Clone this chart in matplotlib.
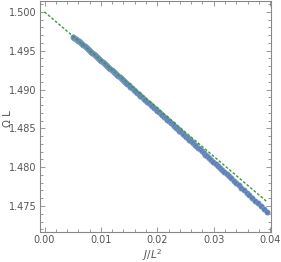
import matplotlib
matplotlib.use("Agg")
import matplotlib.pyplot as plt
from matplotlib.ticker import MultipleLocator, FormatStrFormatter

plt.rcParams['mathtext.fontset'] = 'dejavusans'

# data points (J/L^2, Omega L)
x_pts = [0.0051, 0.0053, 0.0055, 0.0057, 0.0059, 0.0061, 0.0063, 0.0065, 0.0067, 0.0069,
         0.0071, 0.0073, 0.0075, 0.0077, 0.0079, 0.0081, 0.0083, 0.0085, 0.0087, 0.0089,
         0.0091, 0.0093, 0.0095, 0.0097, 0.0099, 0.0101, 0.0103, 0.0105, 0.0107, 0.0109,
         0.0111, 0.0113, 0.0115, 0.0117, 0.0119, 0.0121, 0.0123, 0.0125, 0.0127, 0.0129,
         0.0131, 0.0133, 0.0135, 0.0137, 0.0139, 0.0141, 0.0143, 0.0145, 0.0147, 0.0149,
         0.0152, 0.0155, 0.0158, 0.0161, 0.0164, 0.0167, 0.0170, 0.0173, 0.0176, 0.0179,
         0.0182, 0.0185, 0.0188, 0.0191, 0.0194, 0.0197, 0.0200, 0.0203, 0.0206, 0.0209,
         0.0212, 0.0215, 0.0218, 0.0221, 0.0224, 0.0227, 0.0230, 0.0233, 0.0236, 0.0239,
         0.0242, 0.0245, 0.0248,
         0.02512, 0.02541, 0.02570, 0.02599, 0.02629, 0.02660, 0.02691, 0.02722, 0.02754,
         0.02787, 0.02820, 0.02854, 0.02889, 0.02924, 0.02960, 0.02996, 0.03033, 0.03071,
         0.03109, 0.03149, 0.03189, 0.03229, 0.03271, 0.03313, 0.03356, 0.03400, 0.03445,
         0.03491, 0.03538, 0.03585, 0.03634, 0.03684, 0.03734, 0.03786, 0.03839, 0.03893,
         0.03948]
y_pts = [1.49682, 1.49669, 1.49656, 1.49644, 1.49631, 1.49619, 1.49606, 1.49594, 1.49581, 1.49568,
         1.49556, 1.49543, 1.49530, 1.49518, 1.49505, 1.49492, 1.49480, 1.49467, 1.49454, 1.49442,
         1.49429, 1.49416, 1.49404, 1.49391, 1.49378, 1.49365, 1.49353, 1.49340, 1.49327, 1.49314,
         1.49302, 1.49289, 1.49276, 1.49263, 1.49250, 1.49238, 1.49225, 1.49212, 1.49199, 1.49186,
         1.49174, 1.49161, 1.49148, 1.49135, 1.49122, 1.49109, 1.49096, 1.49084, 1.49071, 1.49058,
         1.49038, 1.49019, 1.49000, 1.48980, 1.48961, 1.48941, 1.48922, 1.48903, 1.48883, 1.48864,
         1.48844, 1.48825, 1.48805, 1.48786, 1.48766, 1.48746, 1.48727, 1.48707, 1.48688, 1.48668,
         1.48648, 1.48629, 1.48609, 1.48589, 1.48570, 1.48550, 1.48530, 1.48510, 1.48491, 1.48471,
         1.48451, 1.48431, 1.48411,
         1.48390, 1.48371, 1.48352, 1.48333, 1.48313, 1.48292, 1.48272, 1.48251, 1.48230,
         1.48208, 1.48186, 1.48163, 1.48140, 1.48116, 1.48092, 1.48068, 1.48043, 1.48018,
         1.47992, 1.47965, 1.47938, 1.47911, 1.47883, 1.47855, 1.47826, 1.47796, 1.47766,
         1.47734, 1.47703, 1.47671, 1.47637, 1.47603, 1.47569, 1.47534, 1.47497, 1.47461,
         1.47423]

# fitted line
x_line = [0.0, 0.0395]
y_line = [1.5, 1.47551]

xticks = [0.00, 0.01, 0.02, 0.03, 0.04]
yticks = [1.475, 1.480, 1.485, 1.490, 1.495, 1.500]

gray = "#888888"
txt = "#555555"

fig = plt.figure(figsize=(2.81, 2.62), dpi=100)
ax = fig.add_axes([40/281, 1-232/262, 231/281, 231.5/262])

ax.plot(x_pts, y_pts, 'o', ms=4.0, color="#5E81B5", mec="#8FA8CF", mew=0.3, zorder=2)
ax.plot(x_line, y_line, '--', color="#3A9A3A", lw=1.0, dashes=(2.0, 1.3), zorder=3)

ax.set_xlim(-0.0008, 0.04016)
ax.set_ylim(1.47165, 1.50147)
ax.set_xticks(xticks)
ax.set_yticks(yticks)
ax.xaxis.set_major_formatter(FormatStrFormatter('%.2f'))
ax.yaxis.set_major_formatter(FormatStrFormatter('%.3f'))
ax.xaxis.set_minor_locator(MultipleLocator(0.002))
ax.yaxis.set_minor_locator(MultipleLocator(0.001))

for s in ax.spines.values():
    s.set_color(gray)
    s.set_linewidth(0.8)
ax.tick_params(which='both', direction='in', color=gray, top=True, right=True,
               labelsize=7, labelcolor=txt, width=0.6)
ax.tick_params(which='major', length=3.5, pad=2.5)
ax.tick_params(which='minor', length=2)

ax.set_xlabel(r"$\mathit{J/L}^2$", fontsize=7.5, color=txt)
ax.set_ylabel("Ω L", fontsize=7.5, color=txt)
ax.xaxis.set_label_coords(0.485, -0.099)
ax.yaxis.set_label_coords(-0.138, 0.49)
ax.xaxis.label.set_va('center')
ax.yaxis.label.set_va('center')

fig.savefig("out.png", dpi=100)
